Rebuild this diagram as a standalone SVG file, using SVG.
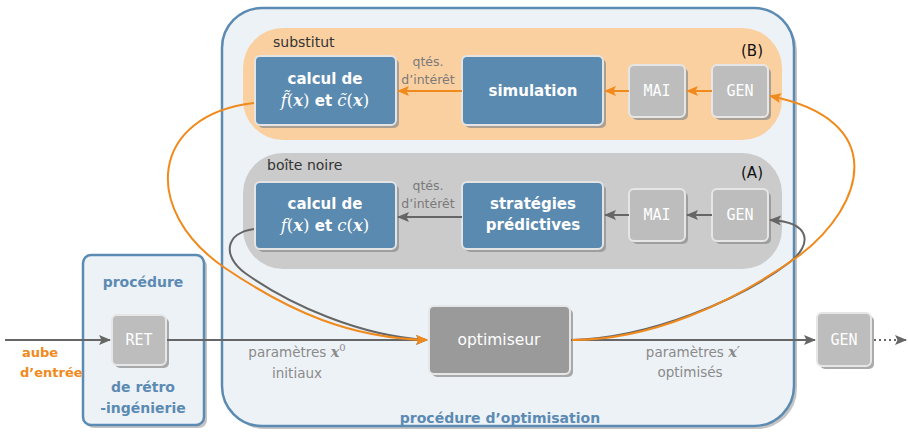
<svg xmlns="http://www.w3.org/2000/svg" width="908" height="432" viewBox="0 0 908 432">
<style>
.frame{fill:#edf2f7;stroke:#5b8ab3;stroke-width:2.5}
.fshadow{fill:#c4c4c4}
.shadow{fill:#8f8f8f;opacity:0.75}
.blue{fill:#5a8ab0;stroke:#e4e4e4;stroke-width:2}
.gbox{fill:#bdbdbd;stroke:#e6e6e6;stroke-width:2}
.opt{fill:#9a9a9a;stroke:#e6e6e6;stroke-width:2}
.wt{fill:#ffffff;font-family:"DejaVu Sans",sans-serif;font-weight:bold;font-size:15px;text-anchor:middle}
.wn{fill:#ffffff;font-family:"DejaVu Sans",sans-serif;font-size:15.5px;text-anchor:middle}
.mono{fill:#ffffff;font-family:"DejaVu Sans Mono",monospace;font-size:15px;text-anchor:middle}
.math{font-family:"DejaVu Serif","Liberation Serif",serif;font-weight:normal;font-size:16.5px}
.mi{font-style:italic}
.mb{font-style:italic;font-weight:bold}
.lbl{fill:#333;font-family:"DejaVu Sans",sans-serif;font-size:14px}
.q{fill:#7a7a7a;font-family:"DejaVu Sans",sans-serif;font-size:12.5px;text-anchor:middle}
.p{fill:#8a8a8a;font-family:"DejaVu Sans",sans-serif;font-size:13.5px;text-anchor:middle}
.bt{fill:#5b8ab3;font-family:"DejaVu Sans",sans-serif;font-weight:bold;font-size:14px;text-anchor:middle}
.ot{fill:#f08a1c;font-family:"DejaVu Sans",sans-serif;font-weight:bold;font-size:13px}
.gl{fill:none;stroke:#666;stroke-width:2}
.ol{fill:none;stroke:#f08a1c;stroke-width:2}
</style>
<defs>
<marker id="ag" markerUnits="userSpaceOnUse" markerWidth="12" markerHeight="10" refX="11" refY="5" orient="auto"><path d="M0,0 L12,5 L0,10 L2.5,5 z" fill="#666"/></marker>
<marker id="ao" markerUnits="userSpaceOnUse" markerWidth="12" markerHeight="10" refX="11" refY="5" orient="auto"><path d="M0,0 L12,5 L0,10 L2.5,5 z" fill="#f08a1c"/></marker>
</defs>

<g id="procedure-optimisation">
<rect class="fshadow" x="225" y="11" width="572" height="418" rx="40"/>
<rect class="frame" x="222" y="8" width="572" height="418" rx="40"/>
<text class="bt" x="500" y="423">procédure d’optimisation</text>
</g>

<g id="procedure-retro">
<rect class="fshadow" x="86" y="258" width="121" height="170" rx="8"/>
<rect class="frame" x="83" y="255" width="121" height="170" rx="8"/>
<text class="bt" x="143" y="287">procédure</text>
<text class="bt" x="143" y="392">de rétro</text>
<text class="bt" x="143" y="413">-ingénierie</text>
</g>

<g id="substitut">
<rect x="243" y="28" width="539" height="112" rx="40" fill="#fbd0a1"/>
<text class="lbl" x="273" y="47">substitut</text>
<text x="752" y="56" font-family="DejaVu Sans,sans-serif" font-size="15" fill="#111" text-anchor="middle">(B)</text>
</g>

<g id="boite-noire">
<rect x="243" y="153" width="539" height="116" rx="40" fill="#cbcbcb"/>
<text class="lbl" x="267" y="170">boîte noire</text>
<text x="752" y="178" font-family="DejaVu Sans,sans-serif" font-size="15" fill="#111" text-anchor="middle">(A)</text>
</g>

<g id="calcul-substitut">
<rect class="shadow" x="258" y="59" width="141" height="69" rx="5"/>
<rect class="blue" x="255" y="56" width="141" height="69" rx="5"/>
<text class="wt" x="325" y="84">calcul de</text>
<text class="wt" x="325" y="106"><tspan class="math mi">f̃</tspan><tspan class="math">(</tspan><tspan class="math mb">x</tspan><tspan class="math">)</tspan> et <tspan class="math mi">c̃</tspan><tspan class="math">(</tspan><tspan class="math mb">x</tspan><tspan class="math">)</tspan></text>
</g>

<g id="simulation">
<rect class="shadow" x="465" y="59" width="141" height="69" rx="5"/>
<rect class="blue" x="462" y="56" width="141" height="69" rx="5"/>
<text class="wt" x="533" y="96">simulation</text>
</g>

<g id="mai-b">
<rect class="shadow" x="632" y="68" width="56" height="52" rx="5"/>
<rect class="gbox" x="629" y="65" width="56" height="52" rx="5"/>
<text class="mono" x="657" y="96">MAI</text>
</g>

<g id="gen-b">
<rect class="shadow" x="715" y="68" width="56" height="52" rx="5"/>
<rect class="gbox" x="712" y="65" width="56" height="52" rx="5"/>
<text class="mono" x="740" y="96">GEN</text>
</g>

<g id="calcul-boite-noire">
<rect class="shadow" x="258" y="185" width="141" height="67" rx="5"/>
<rect class="blue" x="255" y="182" width="141" height="67" rx="5"/>
<text class="wt" x="325" y="209">calcul de</text>
<text class="wt" x="325" y="231"><tspan class="math mi">f</tspan><tspan class="math">(</tspan><tspan class="math mb">x</tspan><tspan class="math">)</tspan> et <tspan class="math mi">c</tspan><tspan class="math">(</tspan><tspan class="math mb">x</tspan><tspan class="math">)</tspan></text>
</g>

<g id="strategies">
<rect class="shadow" x="465" y="185" width="141" height="67" rx="5"/>
<rect class="blue" x="462" y="182" width="141" height="67" rx="5"/>
<text class="wt" x="533" y="209">stratégies</text>
<text class="wt" x="533" y="230">prédictives</text>
</g>

<g id="mai-a">
<rect class="shadow" x="632" y="192" width="56" height="52" rx="5"/>
<rect class="gbox" x="629" y="189" width="56" height="52" rx="5"/>
<text class="mono" x="657" y="220">MAI</text>
</g>

<g id="gen-a">
<rect class="shadow" x="715" y="192" width="56" height="52" rx="5"/>
<rect class="gbox" x="712" y="189" width="56" height="52" rx="5"/>
<text class="mono" x="740" y="220">GEN</text>
</g>

<g id="ret">
<rect class="shadow" x="115" y="318" width="54" height="50" rx="5"/>
<rect class="gbox" x="112" y="315" width="54" height="50" rx="5"/>
<text class="mono" x="139" y="345">RET</text>
</g>

<g id="optimiseur">
<rect class="shadow" x="432" y="309" width="141" height="68" rx="5"/>
<rect class="opt" x="429" y="306" width="141" height="68" rx="5"/>
<text class="wn" x="499" y="345">optimiseur</text>
</g>

<g id="gen-out">
<rect class="shadow" x="820" y="316" width="54" height="53" rx="5"/>
<rect class="gbox" x="817" y="313" width="54" height="53" rx="5"/>
<text class="mono" x="844" y="345">GEN</text>
</g>

<g id="labels">
<text class="q" x="428" y="66">qtés.</text>
<text class="q" x="428" y="84">d’intérêt</text>
<text class="q" x="428" y="190">qtés.</text>
<text class="q" x="428" y="208">d’intérêt</text>
<text class="p" x="297" y="357">paramètres <tspan class="math mb" style="font-size:14.5px">x</tspan><tspan class="math" style="font-size:10px" dy="-6">0</tspan></text>
<text class="p" x="297" y="378">initiaux</text>
<text class="p" x="693" y="357">paramètres <tspan class="math mb" style="font-size:14.5px">x</tspan><tspan class="math" style="font-size:14.5px">′</tspan></text>
<text class="p" x="690" y="377">optimisés</text>
<text class="ot" x="22" y="357">aube</text>
<text class="ot" x="20" y="377">d’entrée</text>
</g>

<g id="connectors">
<line class="gl" x1="5" y1="340" x2="110" y2="340" marker-end="url(#ag)"/>
<line class="gl" x1="167" y1="340" x2="427" y2="340" marker-end="url(#ag)"/>
<line class="gl" x1="571" y1="340" x2="815" y2="340" marker-end="url(#ag)"/>
<line x1="874" y1="340" x2="906" y2="340" stroke="#666" stroke-width="2" stroke-dasharray="2 3" marker-end="url(#ag)"/>
<line class="ol" x1="462" y1="91" x2="398" y2="91" marker-end="url(#ao)"/>
<line class="ol" x1="629" y1="91" x2="605" y2="91" marker-end="url(#ao)"/>
<line class="ol" x1="712" y1="91" x2="687" y2="91" marker-end="url(#ao)"/>
<line class="gl" x1="462" y1="217" x2="398" y2="217" marker-end="url(#ag)"/>
<line class="gl" x1="629" y1="215" x2="605" y2="215" marker-end="url(#ag)"/>
<line class="gl" x1="712" y1="215" x2="687" y2="215" marker-end="url(#ag)"/>
<path class="gl" d="M254,229 C225,233 222,256 245,273 C290,305 360,336 427,340"/>
<path class="gl" d="M572,340 C650,338 740,300 790,262 C812,245 812,222 770,220" marker-end="url(#ag)"/>
<path class="ol" d="M254,103 C150,115 140,210 225,268 C290,312 350,338 427,340" marker-end="url(#ao)"/>
<path class="ol" d="M572,340 C650,340 730,305 800,255 C865,205 890,120 770,96" marker-end="url(#ao)"/>
</g>
</svg>
